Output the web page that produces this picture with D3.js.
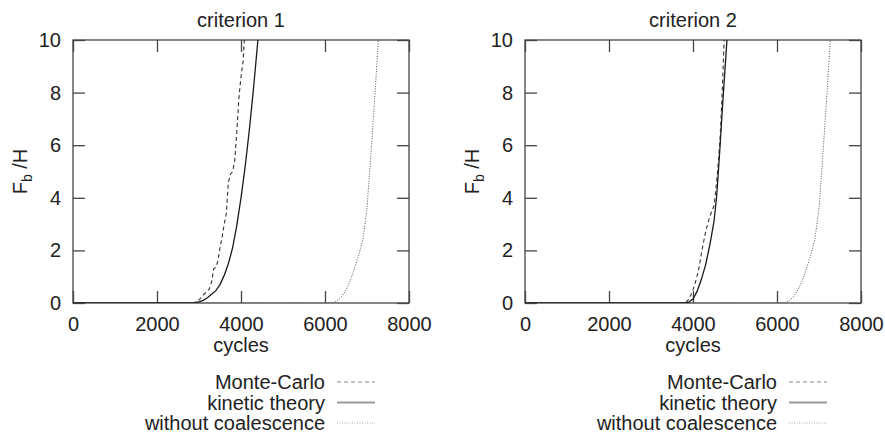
<!DOCTYPE html>
<html>
<head>
<meta charset="utf-8">
<script src="https://cdn.jsdelivr.net/npm/d3@7"></script>
<style>
  body { margin: 0; background: #fff; }
  svg { display: block; }
  text { font-family: "Liberation Sans", Arial, Helvetica, sans-serif; fill: #222; }
</style>
</head>
<body>
<svg id="chart" width="885" height="436"></svg>
<script>
// ---- data (cycles, F_b/H) ----
const panelTitles = ["criterion 1", "criterion 2"];
const xTicks = [0, 2000, 4000, 6000, 8000];
const yTicks = [0, 2, 4, 6, 8, 10];
const seriesNames = ["Monte-Carlo", "kinetic theory", "without coalescence"];

const monteCarlo1 = [[0,0],[2800,0],[2900,0.02],[2950,0.1],[3000,0.12],[3050,0.2],[3100,0.3],[3150,0.38],[3200,0.45],[3250,0.55],[3300,0.8],[3350,1.3],[3400,1.35],[3450,1.6],[3500,2.1],[3550,2.5],[3600,3.0],[3650,3.4],[3700,4.6],[3750,4.9],[3800,5.0],[3850,5.4],[3900,6.5],[3950,7.8],[4000,8.6],[4050,9.2],[4080,10.0],[4100,10.4]];
const kinetic1 = [[0,0],[2800,0],[2900,0.01],[3000,0.04],[3100,0.1],[3200,0.2],[3300,0.33],[3400,0.47],[3500,0.7],[3600,1.05],[3700,1.5],[3800,2.1],[3900,2.95],[4000,4.0],[4100,5.2],[4200,6.6],[4300,8.2],[4400,9.95],[4430,10.5]];
const noCoal1 = [[0,0],[6100,0],[6200,0.02],[6300,0.1],[6400,0.25],[6500,0.5],[6600,0.85],[6700,1.3],[6800,1.8],[6900,2.4],[7000,3.6],[7100,5.8],[7200,8.2],[7270,10],[7290,10.5],[8000,10.5]];

const monteCarlo2 = [[0,0],[3800,0],[3850,0.05],[3900,0.15],[3950,0.3],[4000,0.5],[4050,0.75],[4100,1.05],[4150,1.4],[4200,1.9],[4250,2.3],[4300,2.7],[4350,3.0],[4400,3.3],[4450,3.5],[4500,3.7],[4550,4.4],[4600,5.3],[4650,6.4],[4700,8.2],[4730,9.5],[4750,10.4]];
const kinetic2 = [[0,0],[3800,0],[3900,0.03],[4000,0.15],[4100,0.45],[4200,0.9],[4300,1.45],[4400,2.2],[4500,3.1],[4560,4.0],[4600,4.9],[4650,6.1],[4700,7.4],[4750,8.6],[4800,9.8],[4820,10.4]];
const noCoal2 = [[0,0],[6100,0],[6200,0.02],[6300,0.1],[6400,0.25],[6500,0.5],[6600,0.85],[6700,1.3],[6800,1.8],[6900,2.4],[7000,3.6],[7100,5.8],[7200,8.2],[7270,10],[7290,10.5],[8000,10.5]];

const panels = [
  { title: panelTitles[0], series: [monteCarlo1, kinetic1, noCoal1] },
  { title: panelTitles[1], series: [monteCarlo2, kinetic2, noCoal2] }
];

// ---- layout ----
const svg = d3.select("#chart");
const plotW = 336, plotH = 263;
const left0 = 73, top0 = 40, panelStep = 452;
const fontSize = 20;

const lineStyles = [
  { stroke: "#333", width: 1.1, dash: "4,3" },
  { stroke: "#1a1a1a", width: 1.3, dash: null },
  { stroke: "#555", width: 1.0, dash: "1,1.5" }
];
const legendStyles = [
  { stroke: "#888", width: 1.2, dash: "4,3" },
  { stroke: "#999", width: 2.2, dash: null },
  { stroke: "#aaa", width: 1.2, dash: "1,1.5" }
];

panels.forEach((p, i) => {
  const g = svg.append("g").attr("transform", `translate(${left0 + i * panelStep},${top0})`);
  const x = d3.scaleLinear().domain([0, 8000]).range([0, plotW]);
  const y = d3.scaleLinear().domain([0, 10]).range([plotH, 0]);

  const clipId = "clip" + i;
  g.append("clipPath").attr("id", clipId)
    .append("rect").attr("x", 0).attr("y", 0).attr("width", plotW).attr("height", plotH);

  const styleAxis = sel => {
    sel.select(".domain").remove();
    sel.selectAll(".tick line").attr("stroke", "#444").attr("stroke-width", 1.3);
    sel.selectAll("text").attr("font-size", fontSize).attr("fill", "#222")
      .attr("font-family", '"Liberation Sans", Arial, Helvetica, sans-serif');
  };
  g.append("g").attr("transform", `translate(0,${plotH})`)
    .call(d3.axisBottom(x).tickValues(xTicks).tickFormat(d3.format("d")).tickSizeInner(-12).tickSizeOuter(0).tickPadding(14))
    .call(styleAxis);
  g.append("g")
    .call(d3.axisTop(x).tickValues(xTicks).tickFormat("").tickSizeInner(-12).tickSizeOuter(0))
    .call(styleAxis);
  g.append("g")
    .call(d3.axisLeft(y).tickValues(yTicks).tickFormat(d3.format("d")).tickSizeInner(-12).tickSizeOuter(0).tickPadding(12))
    .call(styleAxis);
  g.append("g").attr("transform", `translate(${plotW},0)`)
    .call(d3.axisRight(y).tickValues(yTicks).tickFormat("").tickSizeInner(-12).tickSizeOuter(0))
    .call(styleAxis);

  g.append("rect").attr("x", 0).attr("y", 0).attr("width", plotW).attr("height", plotH)
    .attr("fill", "none").attr("stroke", "#444").attr("stroke-width", 1.3);

  const line = d3.line().x(d => x(d[0])).y(d => y(d[1]));
  const linesG = g.append("g").attr("clip-path", `url(#${clipId})`);
  [2, 1, 0].forEach(k => {
    const st = lineStyles[k];
    linesG.append("path").datum(p.series[k])
      .attr("d", line).attr("fill", "none")
      .attr("stroke", st.stroke).attr("stroke-width", st.width)
      .attr("stroke-dasharray", st.dash);
  });

  g.append("text").attr("x", plotW / 2).attr("y", -13).attr("text-anchor", "middle")
    .attr("font-size", fontSize).text(p.title);

  g.append("text").attr("x", plotW / 2).attr("y", plotH + 49).attr("text-anchor", "middle")
    .attr("font-size", fontSize).text("cycles");

  const yl = g.append("text").attr("transform", `translate(${-46},${plotH / 2}) rotate(-90)`)
    .attr("text-anchor", "middle").attr("font-size", fontSize);
  yl.append("tspan").text("F");
  yl.append("tspan").attr("font-size", 14).attr("dy", 5).text("b");
  yl.append("tspan").attr("dy", -5).text(" /H");

  const lg = g.append("g").attr("transform", `translate(${252},${plotH + 79})`);
  seriesNames.forEach((name, k) => {
    const row = lg.append("g").attr("transform", `translate(0,${k * 20.5})`);
    row.append("text").attr("x", 0).attr("y", 0).attr("dy", "0.35em")
      .attr("text-anchor", "end").attr("font-size", fontSize).text(name);
    const st = legendStyles[k];
    row.append("line").attr("x1", 12).attr("x2", 50).attr("y1", 0).attr("y2", 0)
      .attr("stroke", st.stroke).attr("stroke-width", st.width)
      .attr("stroke-dasharray", st.dash);
  });
});
</script>
</body>
</html>
